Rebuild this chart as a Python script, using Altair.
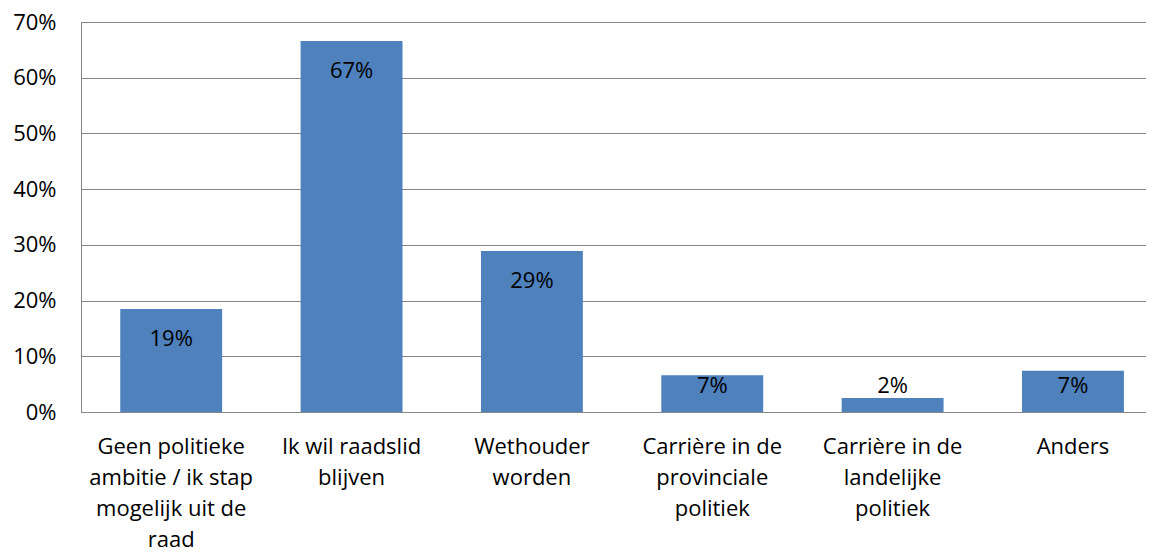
import altair as alt
import pandas as pd

categories = [
    "Geen politieke|ambitie / ik stap|mogelijk uit de|raad",
    "Ik wil raadslid|blijven",
    "Wethouder|worden",
    "Carrière in de|provinciale|politiek",
    "Carrière in de|landelijke|politiek",
    "Anders",
]
values = [18.5, 66.6, 28.9, 6.6, 2.5, 7.4]
labels = ["19%", "67%", "29%", "7%", "2%", "7%"]

df = pd.DataFrame({"cat": categories, "val": values, "lab": labels})
df["lab_y"] = [max(v - 5.4, 4.7) for v in values]

FONT = "Open Sans"
FS = 22

x = alt.X(
    "cat:N",
    sort=None,
    title=None,
    scale=alt.Scale(paddingInner=0.435, paddingOuter=0.17, align=0.64),
    axis=alt.Axis(
        labelAngle=0,
        labelExpr="split(datum.label, '|')",
        labelLineHeight=31.3,
        labelFontSize=FS,
        labelFont=FONT,
        labelColor="#000000",
        labelPadding=24,
        ticks=False,
        domainColor="#868686",
        labelLimit=400,
    ),
)

bars = alt.Chart(df).mark_bar(color="#4F81BD").encode(
    x=x,
    y=alt.Y(
        "val:Q",
        title=None,
        scale=alt.Scale(domain=[0, 70]),
        axis=alt.Axis(
            values=[0, 10, 20, 30, 40, 50, 60, 70],
            labelExpr="datum.value + '%'",
            labelFontSize=FS,
            labelFont=FONT,
            labelColor="#000000",
            labelPadding=25,
            ticks=False,
            grid=True,
            gridColor="#868686",
            domainColor="#868686",
        ),
    ),
)

text = alt.Chart(df).mark_text(font=FONT, fontSize=FS, color="#000000", baseline="middle").encode(
    x=alt.X("cat:N", sort=None),
    y=alt.Y("lab_y:Q"),
    text="lab:N",
)

chart = (
    alt.layer(bars, text)
    .properties(
        width=1065,
        height=390,
        autosize=alt.AutoSizeParams(type="none"),
        padding={"left": 73, "top": 14, "right": 0, "bottom": 141},
    )
    .configure_view(stroke=None)
    .configure(background="#ffffff")
)

chart.save("out.html", embed_options={"renderer": "svg", "actions": False})
